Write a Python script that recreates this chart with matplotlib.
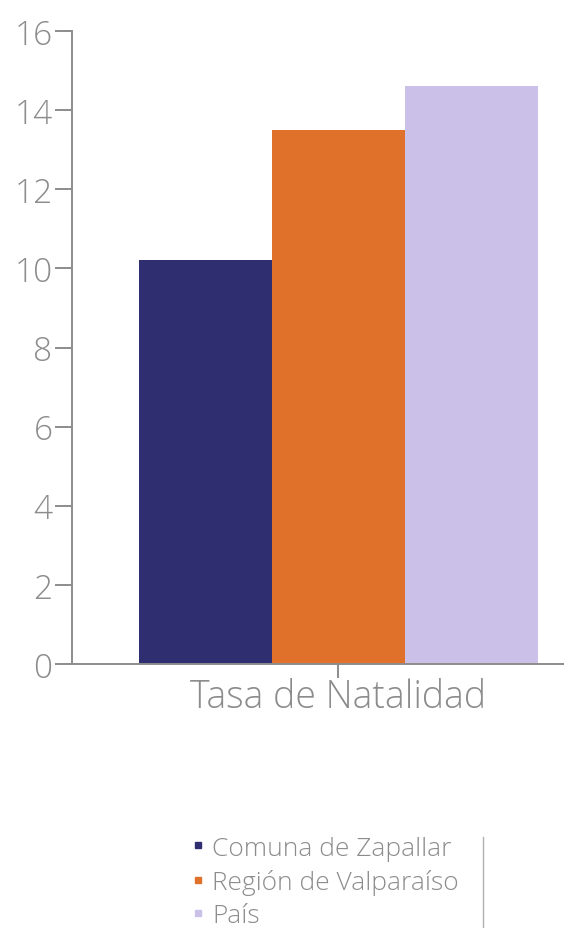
import matplotlib
matplotlib.use("Agg")
import matplotlib.pyplot as plt
from matplotlib.lines import Line2D

# data
category = "Tasa de Natalidad"
series = ["Comuna de Zapallar", "Región de Valparaíso", "País"]
values = [10.2, 13.5, 14.6]
colors = ["#2f2e70", "#e0712b", "#cbc0e8"]
yticks = [0, 2, 4, 6, 8, 10, 12, 14, 16]

grey = "#8c8c8c"
plt.rcParams["font.family"] = ["Open Sans", "DejaVu Sans"]

fig = plt.figure(figsize=(5.64, 9.29), dpi=100)
ax = fig.add_axes([72 / 564, 264 / 929, 532 / 564, 633 / 929])

offsets = [i - (len(series) - 1) / 2 for i in range(len(series))]
for off, v, c, name in zip(offsets, values, colors, series):
    ax.bar(off, v, width=1.0, color=c, label=name)

ax.set_xlim(-2, 2)
ax.set_ylim(0, 16)
ax.set_yticks(yticks)
ax.set_xticks([0])
ax.set_xticklabels([category])

for side in ("top", "right"):
    ax.spines[side].set_visible(False)
for side in ("left", "bottom"):
    ax.spines[side].set_color(grey)
    ax.spines[side].set_linewidth(1.4)

ax.tick_params(axis="y", length=12, width=1.4, color=grey, labelcolor=grey,
               labelsize=24, pad=2)
ax.tick_params(axis="x", length=10, width=1.4, color=grey, labelcolor=grey,
               labelsize=27, pad=0)
for lab in ax.get_yticklabels() + ax.get_xticklabels():
    lab.set_fontweight("light")

handles = [Line2D([], [], marker="s", linestyle="none", markersize=5,
                  color=c) for c in colors]
leg = fig.legend(handles, series, loc="upper left",
                 bbox_to_anchor=(182 / 564, 1 - 826 / 929), frameon=False,
                 fontsize=19, handlelength=0.4, handletextpad=0.35,
                 labelspacing=0.32, labelcolor=grey, borderaxespad=0)
for t in leg.get_texts():
    t.set_fontweight("light")

# thin divider to the right of the legend
fig.add_artist(Line2D([483 / 564, 483 / 564], [0, 1 - 838 / 929],
                      color="#b0b0b0", linewidth=1.0))

fig.savefig("out.png", dpi=100)
